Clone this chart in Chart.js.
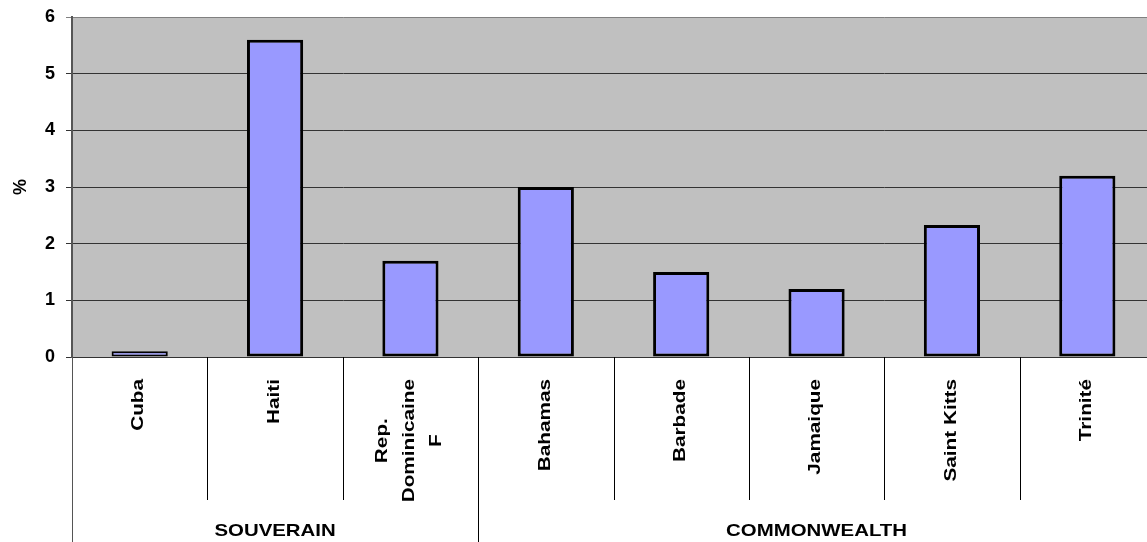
<!DOCTYPE html>
<html>
<head>
<meta charset="utf-8">
<script src="https://cdn.jsdelivr.net/npm/chart.js@4/dist/chart.umd.min.js"></script>
<style>
  html, body { margin: 0; padding: 0; background: #ffffff; overflow: hidden; }
  #wrap { width: 1147px; height: 542px; overflow: hidden; }
</style>
</head>
<body>
<div id="wrap"><canvas id="c" width="1155" height="542"></canvas></div>
<script>
// ---- data ----
const categories = [['Cuba'], ['Haiti'], ['Rep.', 'Dominicaine', 'F'], ['Bahamas'], ['Barbade'], ['Jamaique'], ['Saint Kitts'], ['Trinité']];
const values = [0.1, 5.6, 1.7, 3.0, 1.5, 1.2, 2.33, 3.2];
const groupNames = ['SOUVERAIN', 'COMMONWEALTH'];
const groupSizes = [3, 5];
const yTicks = [0, 1, 2, 3, 4, 5, 6];
const yTitle = '%';

const FONT = "'Liberation Sans', Arial, sans-serif";

const plotBg = {
  id: 'plotBg',
  beforeDraw(chart) {
    const { ctx, chartArea: a } = chart;
    ctx.save();
    ctx.fillStyle = '#C0C0C0';
    ctx.fillRect(a.left, a.top, a.right - a.left, a.bottom - a.top);
    ctx.restore();
  }
};

const catAxis = {
  id: 'catAxis',
  afterDraw(chart) {
    const { ctx, chartArea: a } = chart;
    const xs = chart.scales.x;
    const n = categories.length;
    const catW = (a.right - a.left) / n;
    const H = chart.height;
    ctx.save();
    // separators
    const groupEdges = new Set([0]);
    let acc = 0;
    groupSizes.forEach(s => { acc += s; groupEdges.add(acc); });
    for (let i = 0; i <= n; i++) {
      const x = Math.round(a.left + i * catW) + 0.5;
      ctx.beginPath();
      ctx.strokeStyle = i === 0 ? '#555555' : '#000000';
      ctx.lineWidth = 1;
      ctx.moveTo(x, a.bottom);
      ctx.lineTo(x, groupEdges.has(i) ? H : a.bottom + 143);
      ctx.stroke();
    }
    // category labels
    ctx.fillStyle = '#000000';
    ctx.font = 'bold 17px ' + FONT;
    const stretch = 1.22;
    const lineGap = 27;
    categories.forEach((lines, i) => {
      const cx = xs.getPixelForValue(i) - 1;
      const top = a.bottom + 22;
      const widths = lines.map(l => ctx.measureText(l).width);
      const W = Math.max(...widths);
      ctx.save();
      ctx.translate(cx, top);
      ctx.rotate(-Math.PI / 2);
      ctx.scale(stretch, 1);
      ctx.textAlign = 'center';
      ctx.textBaseline = 'middle';
      lines.forEach((l, j) => {
        const off = (j - (lines.length - 1) / 2) * lineGap;
        ctx.fillText(l, -W / 2, off);
      });
      ctx.restore();
    });
    // group labels
    let start = 0;
    groupNames.forEach((g, k) => {
      const x0 = a.left + start * catW;
      const x1 = a.left + (start + groupSizes[k]) * catW;
      start += groupSizes[k];
      ctx.save();
      ctx.translate((x0 + x1) / 2, 531);
      ctx.scale(1.2, 1);
      ctx.textAlign = 'center';
      ctx.textBaseline = 'middle';
      ctx.fillText(g, 0, 0);
      ctx.restore();
    });
    ctx.restore();
  }
};

new Chart(document.getElementById('c'), {
  type: 'bar',
  data: {
    labels: categories,
    datasets: [{
      data: values,
      backgroundColor: '#9999FF',
      borderColor: '#000000',
      borderWidth: c => (c.raw !== undefined && c.raw < 0.3 ? 2 : 3),
      borderSkipped: false,
      barPercentage: 0.415,
      categoryPercentage: 1.0
    }]
  },
  options: {
    responsive: false,
    animation: false,
    devicePixelRatio: 1,
    layout: { padding: { left: 0, right: 0, top: 17, bottom: 185 } },
    plugins: { legend: { display: false }, tooltip: { enabled: false } },
    scales: {
      x: { display: false, offset: true },
      y: {
        min: 0, max: 6,
        afterFit(s) { s.width = 72; s.paddingTop = 0; s.paddingBottom = 0; },
        afterBuildTicks(s) { s.ticks = yTicks.map(v => ({ value: v })); },
        ticks: {
          color: '#000000',
          font: { family: FONT, size: 18, weight: 'bold' },
          padding: 11
        },
        grid: {
          color: c => (c.index === yTicks.length - 1 ? '#808080' : '#333333'),
          lineWidth: 1,
          tickLength: 6
        },
        border: { color: '#555555', width: 2 },
        title: {
          display: true,
          text: yTitle,
          color: '#000000',
          font: { family: FONT, size: 18, weight: 'bold' },
          padding: { top: 10, bottom: 0 }
        }
      }
    }
  },
  plugins: [plotBg, catAxis]
});
</script>
</body>
</html>
